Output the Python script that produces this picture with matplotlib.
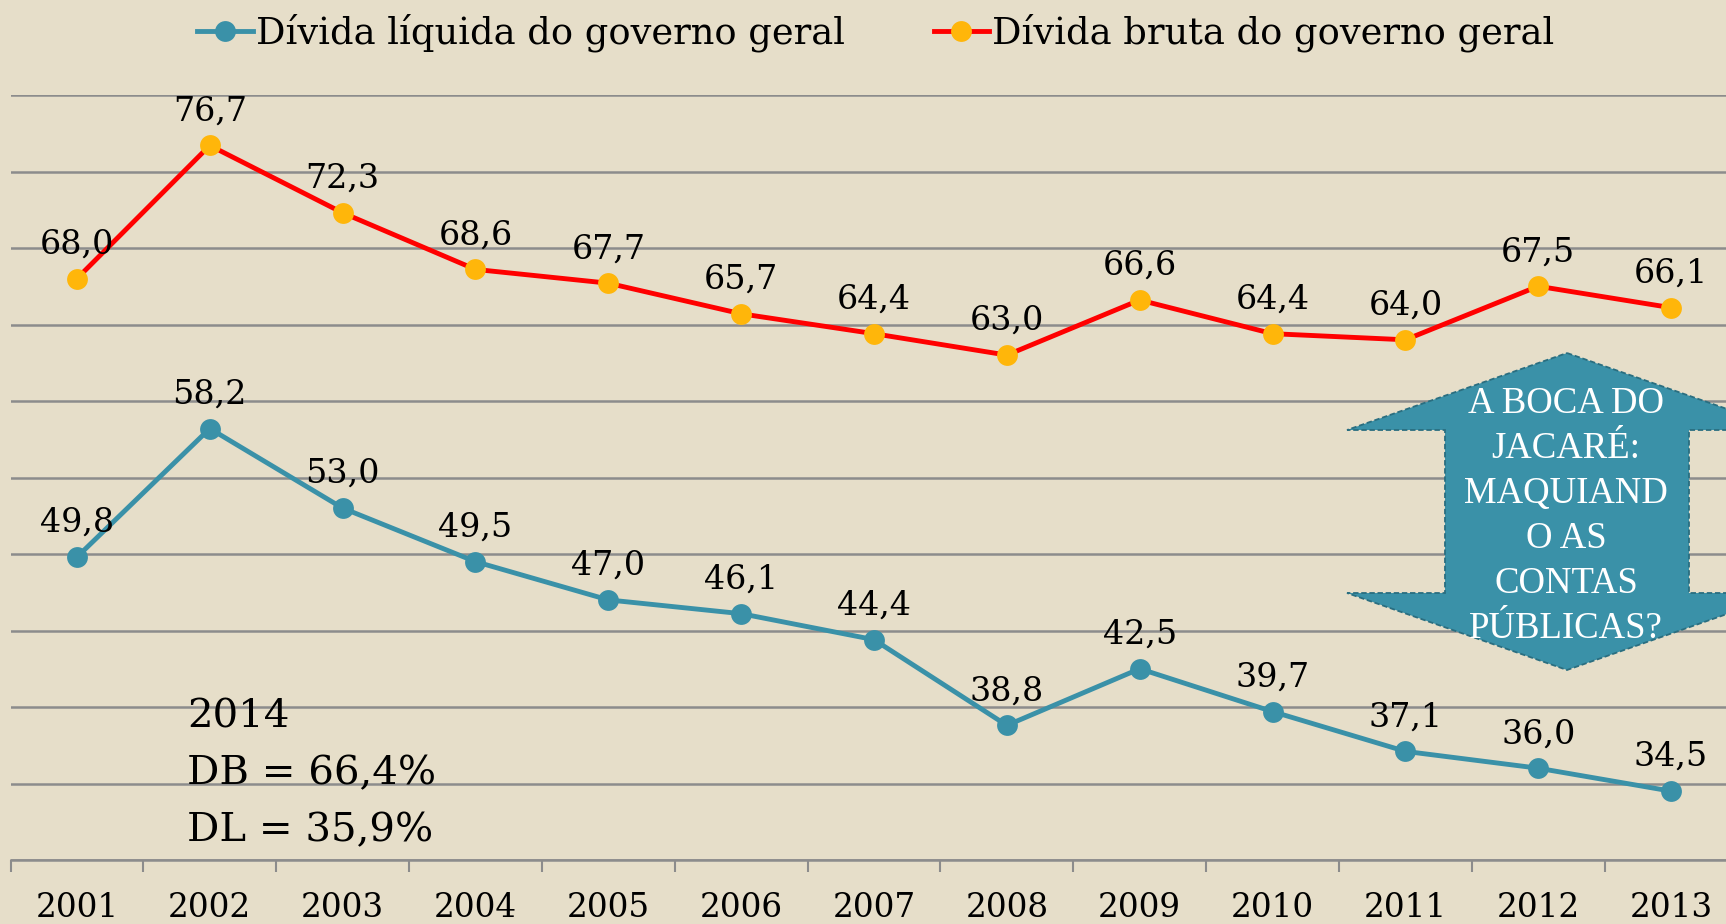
import matplotlib
matplotlib.use("Agg")
import matplotlib.pyplot as plt
from matplotlib.patches import Polygon

# dados (% do PIB)
anos = ["2001", "2002", "2003", "2004", "2005", "2006", "2007",
        "2008", "2009", "2010", "2011", "2012", "2013"]
divida_liquida = [49.8, 58.2, 53.0, 49.5, 47.0, 46.1, 44.4,
                  38.8, 42.5, 39.7, 37.1, 36.0, 34.5]
divida_bruta = [68.0, 76.7, 72.3, 68.6, 67.7, 65.7, 64.4,
                63.0, 66.6, 64.4, 64.0, 67.5, 66.1]
nome_liquida = "Dívida líquida do governo geral"
nome_bruta = "Dívida bruta do governo geral"
nota_2014 = ["2014", "DB = 66,4%", "DL = 35,9%"]
texto_seta = ["A BOCA DO", "JACARÉ:", "MAQUIAND", "O AS", "CONTAS", "PÚBLICAS?"]

W, H = 1726, 924
fundo = "#E6DEC9"
azul = "#3A91A8"
vermelho = "#FF0000"
laranja = "#FFB60A"
cinza = "#8C8C8C"

plt.rcParams["font.family"] = ["DejaVu Serif"]


def px(x, y):
    # pixel (a partir do canto superior esquerdo) -> fração da figura
    return x / W, 1 - y / H


fig = plt.figure(figsize=(W / 100, H / 100), dpi=100, facecolor=fundo)
ax = fig.add_axes([10.5 / W, 1 - 860 / H, 1727 / W, 765 / H])
ax.set_facecolor(fundo)

x = list(range(len(anos)))
l_liq, = ax.plot(x, divida_liquida, color=azul, lw=3.5, marker="o",
                 markersize=15, markerfacecolor=azul, markeredgewidth=0,
                 label=nome_liquida, zorder=3)
l_bru, = ax.plot(x, divida_bruta, color=vermelho, lw=3.5, marker="o",
                 markersize=15, markerfacecolor=laranja, markeredgewidth=0,
                 label=nome_bruta, zorder=3)

for serie in (divida_liquida, divida_bruta):
    for i, v in enumerate(serie):
        ax.annotate(f"{v:.1f}".replace(".", ","), (i, v), xytext=(0, 18),
                    textcoords="offset points", ha="center", va="baseline",
                    fontsize=24, color="black", zorder=4)

ax.set_xlim(-0.5, len(anos) - 0.5)
ax.set_ylim(30, 80)
ax.set_yticks(range(30, 81, 5))
ax.yaxis.grid(True, color=cinza, lw=1.8)
ax.set_axisbelow(True)
ax.tick_params(axis="y", left=False, labelleft=False)

ax.set_xticks(x)
ax.set_xticklabels(anos, fontsize=23.5)
ax.set_xticks([i - 0.5 for i in range(len(anos) + 1)], minor=True)
ax.tick_params(axis="x", which="major", length=0, pad=23)
ax.tick_params(axis="x", which="minor", length=8.5, width=1.5, color=cinza)

for s in ("top", "left", "right"):
    ax.spines[s].set_visible(False)
ax.spines["bottom"].set_color(cinza)
ax.spines["bottom"].set_linewidth(1.8)

# legenda no topo
fig.legend(handles=[l_liq, l_bru], loc="center",
           bbox_to_anchor=px(876, 33), ncol=2, frameon=False,
           fontsize=26.5, handlelength=1.5, handletextpad=0.1,
           columnspacing=2.4)

# nota 2014
for txt, yb in zip(nota_2014, [727, 784, 841]):
    fig.text(*px(187, yb), txt, fontsize=29, va="baseline", ha="left")

# seta dupla "boca do jacaré"
pts = [(1567, 353), (1787, 430), (1689, 430), (1689, 593), (1787, 593),
       (1567, 670), (1347, 593), (1445, 593), (1445, 430), (1347, 430)]
seta = Polygon([px(a, b) for a, b in pts], closed=True, transform=fig.transFigure,
               facecolor=azul, edgecolor="#2A6E80", lw=1.3,
               linestyle=(0, (3, 1.5)), zorder=5)
fig.add_artist(seta)
for k, linha in enumerate(texto_seta):
    fig.text(*px(1566, 413 + 45 * k), linha, fontsize=26.5, color="white",
             family=["Liberation Serif"], ha="center", va="baseline", zorder=6)

fig.savefig("out.png", dpi=100, facecolor=fundo)
